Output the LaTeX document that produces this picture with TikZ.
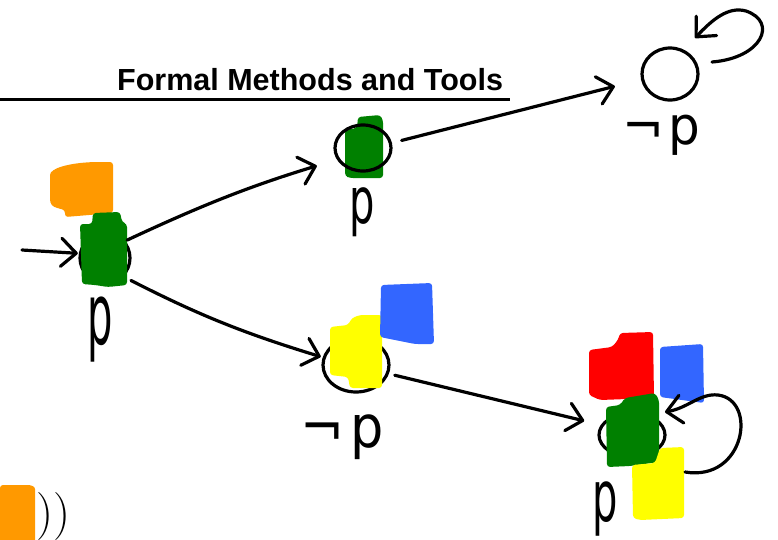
\documentclass[tikz,border=0pt]{standalone}
\usepackage{fontspec}
\newfontfamily\labelfont{DejaVu Sans}
\newfontfamily\titlefont{Liberation Sans}
\newfontfamily\parenfont{Latin Modern Roman}
\usetikzlibrary{arrows.meta,shapes.geometric}

\definecolor{tokorange}{RGB}{255,153,0}
\definecolor{tokgreen}{RGB}{0,128,0}
\definecolor{tokyellow}{RGB}{255,255,0}
\definecolor{tokblue}{RGB}{51,102,255}
\definecolor{tokred}{RGB}{255,0,0}

\tikzset{
  state/.style={draw, ellipse, line width=3.2pt, inner sep=0pt},
  trans/.style={line width=3.2pt, line cap=round,
    -{Straight Barb[length=15pt,width=28pt,round]}},
  token/.style={rounded corners=3pt},
  lbl/.style={inner sep=0pt, font=\labelfont\fontsize{50}{50}\selectfont},
}

\begin{document}
\begin{tikzpicture}[x=1pt,y=-1pt]
\useasboundingbox (0,0) rectangle (778,539);

% title and rule
\node[anchor=base west, inner sep=0pt,
      font=\titlefont\bfseries\fontsize{30.5}{30.5}\selectfont] (title) at (117,90) {Formal Methods and Tools};
\coordinate (ruleA) at (0,99);
\coordinate (ruleB) at (510,99);
\draw[line width=3pt] (ruleA) -- (ruleB);

% token under the circle of s1
\fill[tokgreen, token] (345,130) -- (357,128) -- (358,117) -- (380,115) -- (383,120)
  -- (383,178) -- (350,178) -- (345,176) -- cycle;

% states
\node[state, minimum width=50pt, minimum height=50pt] (s0) at (105,258) {};
\node[state, minimum width=56pt, minimum height=46pt] (s1) at (363,148) {};
\node[state, minimum width=56pt, minimum height=52pt] (s2) at (670,74) {};
\node[state, minimum width=66pt, minimum height=54pt] (s3) at (356,365) {};
\node[state, minimum width=66pt, minimum height=44pt] (s4) at (632,435) {};

% tokens on s0
\fill[tokorange, token] (113,162) -- (113,213) -- (65,217) -- (65,210) -- (57,208)
  .. controls (50,205) and (50,200) .. (50,195) -- (50,178)
  .. controls (50,168) and (70,163) .. (95,162) -- cycle;
\fill[tokgreen, token] (80,224) -- (92,224) -- (93,213) -- (120,212) -- (122,222)
  -- (127,224) -- (127,285) -- (108,287) -- (95,285) -- (82,284) -- cycle;

% tokens on s3
\fill[tokyellow, token] (330,327) -- (348,325) -- (352,318) -- (360,315) -- (382,315)
  -- (382,388) -- (350,388) -- (348,377) -- (330,375) -- cycle;
\fill[tokblue, token] (381,285) -- (432,283) -- (434,344) -- (415,344) -- (380,337) -- cycle;

% tokens on s4
\fill[tokred, token] (589,350) -- (612,347) -- (618,340) -- (620,333) -- (653,332)
  -- (654,398) -- (600,400) -- (589,395) -- cycle;
\fill[tokblue, token] (660,347) -- (703,344) -- (704,403) -- (660,397) -- cycle;
\fill[tokgreen, token] (606,407) -- (620,405) -- (625,398) -- (655,393) -- (659,400)
  -- (659,462) -- (630,466) -- (607,467) -- cycle;
\fill[tokyellow, token] (632,465) -- (655,463) -- (660,448) -- (684,447) -- (684,518)
  -- (640,520) -- (633,518) -- cycle;

% token cut by the lower left edge
\fill[tokorange, token] (0,485) -- (25,485) .. controls (32,485) and (35,487) .. (35,492)
  -- (35,545) -- (0,545) -- cycle;
\node[anchor=north west, inner sep=0pt, font=\parenfont\fontsize{48}{48}\selectfont] (paren) at (36,492) {))};

% transitions
\coordinate (init) at (22,250);
\draw[trans, shorten >=1pt] (init) -- (s0.170);
\draw[trans, shorten <=2pt, shorten >=21pt] (s0.40) to[bend left=4] (s1.204);
\draw[trans, shorten <=10pt, shorten >=27pt] (s1.10) -- (s2.191);
\draw[trans, shorten <=8pt, shorten >=2pt] (s0.-45) to[bend right=5] (s3.167);
\draw[trans, shorten <=6pt, shorten >=17pt] (s3.-15) -- (s4.162);

% self loops
\coordinate (l2a) at (712,62);
\coordinate (l2b) at (695,38);
\draw[trans] (l2a) .. controls (762,58) and (778,22) .. (746,11)
  .. controls (728,6) and (712,20) .. (l2b);
\coordinate (l4a) at (685,472);
\coordinate (l4b) at (665,412);
\draw[trans] (l4a) .. controls (745,482) and (758,400) .. (718,395)
  .. controls (700,393) and (688,408) .. (l4b);

% labels
\node[lbl] (lab0) at (100,330) {\scalebox{0.8}[1.7]{p}};
\node[lbl] (lab1) at (362,212) {\scalebox{0.8}[1.28]{p}};
\node[lbl] (lab2) at (661,135) {\scalebox{1}[1.05]{¬\kern4pt p}};
\node[lbl] (lab3) at (342,437) {\scalebox{1.05}[1.17]{¬\kern6pt p}};
\node[lbl] (lab4) at (605,509) {\scalebox{0.8}[1.42]{p}};
\end{tikzpicture}
\end{document}
